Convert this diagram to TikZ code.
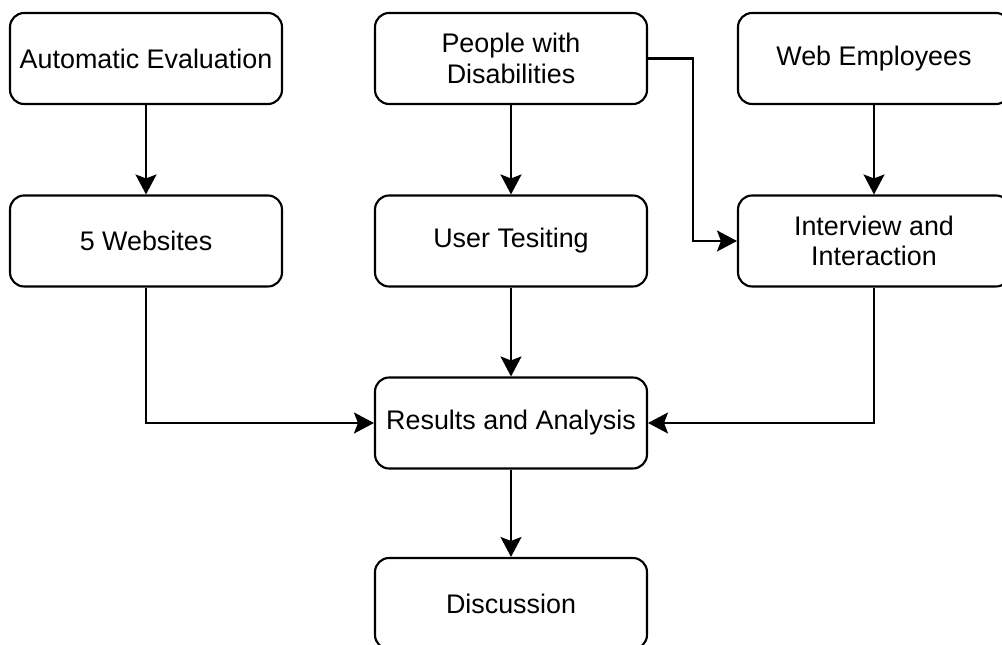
\documentclass[tikz,border=0pt]{standalone}
\usepackage{fontspec}
\setmainfont{Liberation Sans}
\usepackage{tikz}
\usetikzlibrary{arrows.meta, positioning, calc}

\tikzset{
  stagebox/.style={draw, line width=1.2pt, rounded corners=0.28cm, minimum width=5.44cm,
    minimum height=1.82cm, align=center, font=\fontsize{15.3}{17.5}\selectfont},
  flow/.style={-{Stealth[length=0.4cm, width=0.42cm, inset=0.08cm]}, line width=1.2pt}
}

\begin{document}
\begin{tikzpicture}[x=0.02cm, y=-0.02cm]
  % canvas in pixel units, y pointing down
  \useasboundingbox (0,0) rectangle (1002,645);

  % Top row - sources
  \node[stagebox] (autoeval) at (146, 58.5) {Automatic Evaluation};
  \node[stagebox] (people) at (511, 58.5) {People with\\Disabilities};
  \node[stagebox] (webemp) at (874, 58.5) {Web Employees};

  % Middle row - methods
  \node[stagebox] (websites) at (146, 241) {5 Websites};
  \node[stagebox] (usertest) at (511, 241) {User Tesiting};
  \node[stagebox] (interview) at (874, 241) {Interview and\\Interaction};

  % Bottom - outcome
  \node[stagebox] (results) at (511, 423) {Results and Analysis};
  \node[stagebox] (discussion) at (511, 603.5) {Discussion};

  % Connectors
  \draw[flow] (autoeval) -- (websites);
  \draw[flow] (people) -- (usertest);
  \draw[flow] (webemp) -- (interview);
  \draw[flow] (people.east) -- ++(45,0) |- (interview.west);
  \draw[flow] (websites.south) |- (results.west);
  \draw[flow] (usertest) -- (results);
  \draw[flow] (interview.south) |- (results.east);
  \draw[flow] (results) -- (discussion);
\end{tikzpicture}
\end{document}
